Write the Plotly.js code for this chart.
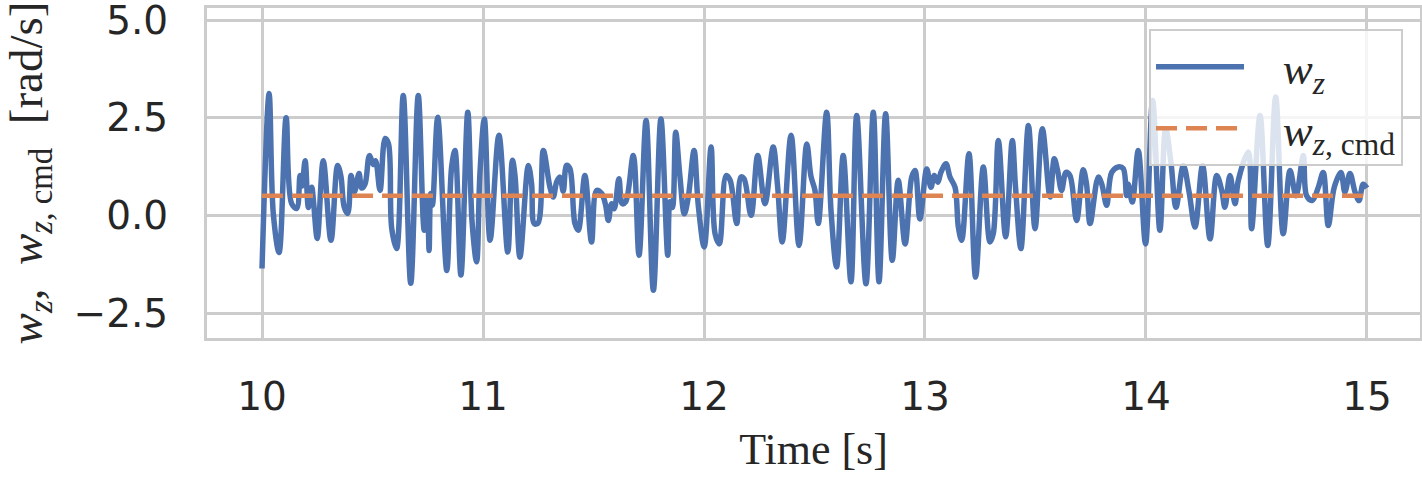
<!DOCTYPE html>
<html>
<head>
<meta charset="utf-8">
<script src="https://cdn.plot.ly/plotly-3.0.1.min.js"></script>
<style>html,body{margin:0;padding:0;background:#fff;}#chart{width:1422px;height:486px;}</style>
</head>
<body>
<div id="chart"></div>
<script>
// Time [s]
const time = [
10.000,10.032,10.051,10.077,10.109,10.134,10.157,10.172,10.181,10.195,
10.210,10.225,10.233,10.250,10.277,10.312,10.342,10.357,10.372,10.388,
10.403,10.418,10.439,10.451,10.466,10.486,10.504,10.514,10.534,10.557,
10.572,10.587,10.609,10.639,10.673,10.707,10.734,10.748,10.756,10.763,
10.771,10.795,10.836,10.858,10.873,10.900,10.931,10.951,10.971,10.986,
11.006,11.032,11.072,11.112,11.133,11.145,11.167,11.205,11.220,11.232,
11.249,11.273,11.303,11.318,11.333,11.348,11.363,11.378,11.393,11.416,
11.431,11.461,11.491,11.514,11.537,11.555,11.567,11.582,11.594,11.615,
11.630,11.646,11.680,11.706,11.738,11.771,11.805,11.836,11.846,11.857,
11.872,11.891,11.911,11.929,11.955,11.974,12.001,12.032,12.050,12.069,
12.100,12.118,12.148,12.167,12.181,12.213,12.243,12.276,12.313,12.333,
12.354,12.394,12.430,12.465,12.484,12.502,12.517,12.555,12.575,12.600,
12.630,12.665,12.691,12.733,12.766,12.792,12.822,12.852,12.879,12.910,
12.940,12.955,12.977,13.008,13.027,13.042,13.058,13.072,13.095,13.113,
13.136,13.151,13.166,13.199,13.229,13.264,13.294,13.309,13.332,13.365,
13.395,13.410,13.434,13.468,13.498,13.531,13.566,13.585,13.600,13.618,
13.638,13.656,13.686,13.716,13.731,13.747,13.784,13.800,13.822,13.845,
13.875,13.897,13.912,13.920,13.938,13.965,13.998,14.030,14.063,14.089,
14.113,14.136,14.169,14.195,14.222,14.256,14.290,14.320,14.343,14.357,
14.380,14.403,14.418,14.463,14.478,14.516,14.551,14.587,14.621,14.652,
14.679,14.712,14.727,14.752,14.780,14.802,14.825,14.852,14.882,14.900,
14.923,14.946,14.964,14.983,15.000
];
// w_z [rad/s]
const wz = [
-1.36,3.12,0.05,-0.95,2.50,0.30,0.18,1.02,0.75,1.40,
0.20,0.72,0.35,-0.59,1.40,-0.64,1.28,1.00,0.21,0.05,
1.02,0.60,1.07,0.70,0.80,1.53,1.30,1.40,0.64,1.97,
1.84,-0.34,-0.85,3.07,-1.74,3.07,-0.38,0.40,-0.90,0.56,
0.26,2.51,-1.41,1.24,1.66,-1.53,2.64,-0.21,-1.19,1.07,
2.47,-0.64,2.05,-0.94,1.41,1.00,-1.07,1.28,0.80,-0.21,
-0.20,1.66,0.72,0.47,0.85,0.98,0.62,1.28,1.20,-0.21,
-0.38,1.02,-0.68,0.64,0.56,0.26,-0.13,0.30,0.17,0.94,
0.30,0.35,1.53,-1.02,2.43,-1.92,2.47,-1.02,0.35,0.20,
2.13,1.00,0.04,0.47,1.66,0.26,-0.81,1.75,-0.47,-0.73,
1.02,0.90,-0.21,0.98,0.94,0.00,1.53,0.30,1.75,0.75,
-0.68,2.05,-0.77,1.83,1.00,0.64,-0.21,2.64,0.10,-1.32,
1.53,-1.70,2.56,-1.75,2.64,-1.70,2.60,-1.15,0.90,-0.73,
0.98,1.15,-0.09,1.19,0.72,1.02,0.85,1.10,1.32,0.98,
0.72,-0.30,-0.64,1.58,-1.58,1.24,-0.68,-0.47,1.92,-0.55,
1.92,0.70,-0.85,2.30,-0.34,2.22,0.47,1.45,1.15,0.64,
1.10,1.02,-0.13,1.17,0.80,-0.21,0.98,0.80,0.26,1.10,
1.24,1.20,0.51,0.80,0.34,1.66,-0.73,2.94,-0.38,2.22,
1.36,0.21,1.28,0.60,-0.30,1.28,-0.60,1.02,0.64,0.21,
1.02,0.30,0.90,1.62,-0.34,2.56,-0.77,3.03,-0.47,1.15,
0.50,1.53,0.50,0.38,0.72,1.10,-0.26,0.72,1.10,0.60,
1.07,0.60,0.38,0.80,0.70
];
// commanded w_z [rad/s]
const cmdTime = [10.0, 15.0];
const wzCmd = [0.5, 0.5];
const xTicks = [10, 11, 12, 13, 14, 15];
const yTicks = [-2.5, 0.0, 2.5, 5.0];

const traces = [
  {x: time, y: wz, type: 'scatter', mode: 'lines', name: '\u00a0\u00a0\u00a0<i>w</i><sub><i>z</i></sub>',
   line: {color: '#4c72b0', width: 5.5, shape: 'spline', smoothing: 1.0}},
  {x: cmdTime, y: wzCmd, type: 'scatter', mode: 'lines', name: '\u00a0\u00a0\u00a0<i>w</i><sub><i>z</i>, cmd</sub>',
   line: {color: '#dd8452', width: 4.5, dash: '21px,9px'}}
];

const tickFont = {family: 'DejaVu Sans', size: 39, color: '#262626'};
const layout = {
  width: 1422, height: 486,
  margin: {l: 207, r: 2, t: 8, b: 148},
  paper_bgcolor: '#ffffff', plot_bgcolor: '#ffffff',
  showlegend: true,
  xaxis: {
    range: [9.751, 15.24], tickvals: xTicks, ticktext: xTicks.map(String),
    showgrid: true, gridcolor: '#cccccc', gridwidth: 3, zeroline: false,
    showline: true, linecolor: '#cccccc', linewidth: 3, mirror: true,
    ticks: '', ticklabelstandoff: 22, tickfont: tickFont, ticklabeloverflow: 'allow',
    title: {text: 'Time [s]', font: {family: 'Liberation Serif', size: 44, color: '#262626'}, standoff: 16}
  },
  yaxis: {
    range: [-3.14, 5.31], tickvals: yTicks, ticktext: yTicks.map(v => (v < 0 ? '\u2212' : '') + Math.abs(v).toFixed(1)),
    showgrid: true, gridcolor: '#cccccc', gridwidth: 3, zeroline: false,
    showline: true, linecolor: '#cccccc', linewidth: 3, mirror: true,
    ticks: '', ticklabelstandoff: 28, tickfont: tickFont, ticklabeloverflow: 'allow',
    title: {text: '<i>w</i><sub><i>z</i></sub>,  <i>w</i><sub><i>z</i>, cmd</sub>  [rad/s]',
            font: {family: 'Liberation Serif', size: 47, color: '#262626'}, standoff: 18}
  },
  legend: {
    x: 0.986, xanchor: 'right', y: 0.936, yanchor: 'top',
    bgcolor: 'rgba(255,255,255,0.8)', bordercolor: '#cccccc', borderwidth: 2,
    font: {family: 'Liberation Serif', size: 45, color: '#262626'},
    itemwidth: 88, tracegroupgap: 4
  }
};

Plotly.newPlot('chart', traces, layout, {staticPlot: true, displayModeBar: false});
</script>
</body>
</html>
